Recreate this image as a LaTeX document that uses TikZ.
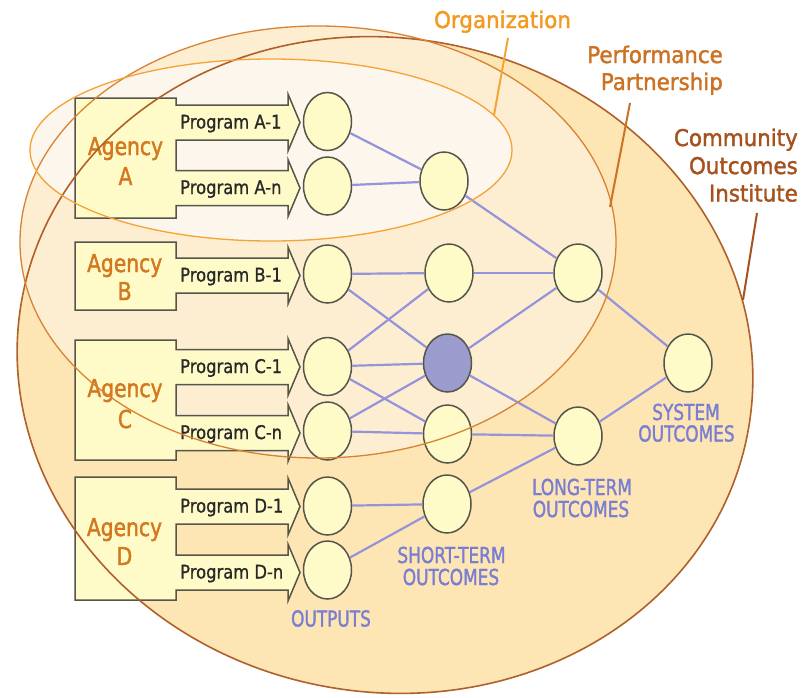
\documentclass[tikz,border=0pt]{standalone}
\usepackage{fontspec}
\setmainfont{DejaVu Sans}
\newfontfamily\ftop[FakeStretch=0.93,FakeBold=1.6]{DejaVu Sans}
\newfontfamily\fag[FakeStretch=0.82,FakeBold=1.6]{DejaVu Sans}
\newfontfamily\fprog[FakeStretch=0.87,FakeBold=1.0]{DejaVu Sans}
\newfontfamily\fblue[FakeStretch=0.77,FakeBold=1.4]{DejaVu Sans}
\usetikzlibrary{shapes.geometric}
\definecolor{bigfill}{HTML}{FDE6B4}
\definecolor{perffill}{HTML}{FDEED2}
\definecolor{orgfill}{HTML}{FCF6EC}
\definecolor{bigline}{HTML}{B0602A}
\definecolor{perfline}{HTML}{D88234}
\definecolor{orgline}{HTML}{F5A236}
\definecolor{boxfill}{HTML}{FFFBC8}
\definecolor{boxline}{HTML}{55554A}
\definecolor{purplefill}{HTML}{9B9BCD}
\definecolor{connc}{HTML}{9494DA}
\definecolor{bluetxt}{HTML}{7A7ED2}
\definecolor{agtxt}{HTML}{D47820}
\definecolor{orgtxt}{HTML}{F29A22}
\definecolor{perftxt}{HTML}{CC7222}
\definecolor{comtxt}{HTML}{A5521E}
\definecolor{progtxt}{HTML}{282828}
\tikzset{
  agbox/.style={fill=boxfill, draw=boxline, line width=1.5pt, line join=miter},
  outc/.style={ellipse, draw=boxline, fill=boxfill, line width=1.5pt, minimum width=48pt, minimum height=58pt, inner sep=0pt},
  conn/.style={draw=connc, line width=2.2pt},
  leader/.style={line width=2pt},
  toplbl/.style={inner sep=0pt, font={\ftop\fontsize{23}{27}\selectfont}},
  aglbl/.style={inner sep=0pt, anchor=base, text=agtxt, font={\fag\fontsize{24.7}{29}\selectfont}},
  proglbl/.style={inner sep=0pt, anchor=base west, text=progtxt, font={\fprog\fontsize{18.8}{22}\selectfont}},
  bluelbl/.style={inner sep=0pt, anchor=base, text=bluetxt, font={\fblue\fontsize{22}{22}\selectfont}}
}
\newcommand\DrawAgTwo[4]{%
  \draw[agbox] (75,#1) -- (176,#1) -- (176,#3-17.5) -- (288,#3-17.5) -- (288,#3-28.5) -- (300,#3) -- (288,#3+28.5) -- (288,#3+17.5) -- (176,#3+17.5)
   -- (176,#4-17.5) -- (288,#4-17.5) -- (288,#4-28.5) -- (300,#4) -- (288,#4+28.5) -- (288,#4+17.5) -- (176,#4+17.5) -- (176,#2) -- (75,#2) -- cycle;}
\newcommand\DrawAgOne[3]{%
  \draw[agbox] (75,#1) -- (176,#1) -- (176,#3-17.5) -- (288,#3-17.5) -- (288,#3-28.5) -- (300,#3) -- (288,#3+28.5) -- (288,#3+17.5) -- (176,#3+17.5)
   -- (176,#2) -- (75,#2) -- cycle;}
\begin{document}
\begin{tikzpicture}[x=1pt,y=-1pt]
\useasboundingbox (0,0) rectangle (804,697);
\fill[white] (0,0) rectangle (804,697);
% fills of the three zones
\fill[bigfill, rotate around={-10:(385,365)}] (385,365) ellipse [x radius=369, y radius=327];
\fill[perffill] (318,242) ellipse [x radius=298, y radius=216];
\fill[orgfill] (271,150) ellipse [x radius=241, y radius=91];
% output / outcome circles
\node[outc] (c1a1) at (327.5,121.5) {};
\node[outc] (c1a2) at (327.5,186) {};
\node[outc] (c1b) at (327.5,274) {};
\node[outc] (c1c1) at (327.5,366.5) {};
\node[outc] (c1cn) at (327.5,431) {};
\node[outc] (c1d1) at (327.5,506) {};
\node[outc] (c1dn) at (327.5,570) {};
\node[outc] (c2o) at (444,181) {};
\node[outc] (c2b) at (449,273) {};
\node[outc, fill=purplefill] (c2p) at (447.5,363) {};
\node[outc] (c2cn) at (447.5,434) {};
\node[outc] (c2d) at (447,504) {};
\node[outc] (c3t) at (578,273) {};
\node[outc] (c3b) at (578,436) {};
\node[outc] (c4) at (688,363) {};
% connectors
\draw[conn] (c1a1) -- (c2o);
\draw[conn] (c1a2) -- (c2o);
\draw[conn] (c2o) -- (c3t);
\draw[conn] (c1b) -- (c2b);
\draw[conn] (c1b) -- (c2p);
\draw[conn] (c2b) -- (c3t);
\draw[conn] (c1c1) -- (c2b);
\draw[conn] (c1c1) -- (c2p);
\draw[conn] (c1c1) -- (c2cn);
\draw[conn] (c1cn) -- (c2p);
\draw[conn] (c1cn) -- (c2cn);
\draw[conn] (c2p) -- (c3t);
\draw[conn] (c2p) -- (c3b);
\draw[conn] (c2cn) -- (c3b);
\draw[conn] (c1d1) -- (c2d);
\draw[conn] (c1dn) -- (c2d);
\draw[conn] (c2d) -- (c3b);
\draw[conn] (c3t) -- (c4);
\draw[conn] (c3b) -- (c4);
% agencies with program arrows
\DrawAgTwo{98}{218}{122.5}{188}
\DrawAgOne{242}{310}{275.5}
\DrawAgTwo{340}{460}{367}{433}
\DrawAgTwo{477}{600}{506.5}{572.5}
\node[aglbl] (agA1) at (125.5,155) {Agency};
\node[aglbl] (agA2) at (125.5,185) {A};
\node[aglbl] (agB1) at (124.7,272) {Agency};
\node[aglbl] (agB2) at (124.7,300) {B};
\node[aglbl] (agC1) at (125,397) {Agency};
\node[aglbl] (agC2) at (125,428) {C};
\node[aglbl] (agD1) at (124.5,536) {Agency};
\node[aglbl] (agD2) at (124.5,565) {D};
\node[proglbl] (pA1) at (180,128.5) {Program A-1};
\node[proglbl] (pAn) at (180,194) {Program A-n};
\node[proglbl] (pB1) at (180,281.5) {Program B-1};
\node[proglbl] (pC1) at (180,373) {Program C-1};
\node[proglbl] (pCn) at (180,439) {Program C-n};
\node[proglbl] (pD1) at (180,512.5) {Program D-1};
\node[proglbl] (pDn) at (180,578.5) {Program D-n};
% outcome labels
\node[bluelbl] (outT) at (331,626.5) {OUTPUTS};
\node[bluelbl] (stT1) at (451.5,563) {SHORT-TERM};
\node[bluelbl] (stT2) at (451,585) {OUTCOMES};
\node[bluelbl] (ltT1) at (582,495) {LONG-TERM};
\node[bluelbl] (ltT2) at (581,517) {OUTCOMES};
\node[bluelbl] (sysT1) at (686,420) {SYSTEM};
\node[bluelbl] (sysT2) at (686.5,441.5) {OUTCOMES};
% outlines of the three zones, on top
\draw[bigline, line width=1.6pt, rotate around={-10:(385,365)}] (385,365) ellipse [x radius=369, y radius=327];
\draw[perfline, line width=1.3pt] (318,242) ellipse [x radius=298, y radius=216];
\draw[orgline, line width=1.3pt] (271,150) ellipse [x radius=241, y radius=91];
% zone labels and leaders
\node[toplbl, text=orgtxt, anchor=base] (orgT) at (502.5,28) {Organization};
\node[toplbl, text=perftxt, anchor=base east] (perfT1) at (723,63) {Performance};
\node[toplbl, text=perftxt, anchor=base east] (perfT2) at (723,90) {Partnership};
\node[toplbl, text=comtxt, anchor=base east] (comT1) at (798,146) {Community};
\node[toplbl, text=comtxt, anchor=base east] (comT2) at (798,174) {Outcomes};
\node[toplbl, text=comtxt, anchor=base east] (comT3) at (798,201.5) {Institute};
\coordinate (orgL1) at (508,38);
\coordinate (orgL2) at (494,115);
\coordinate (perfL1) at (630,103);
\coordinate (perfL2) at (610,207);
\coordinate (comL1) at (757,213);
\coordinate (comL2) at (743,300);
\draw[leader, draw=orgline] (orgL1) -- (orgL2);
\draw[leader, draw=perftxt] (perfL1) -- (perfL2);
\draw[leader, draw=comtxt] (comL1) -- (comL2);
\end{tikzpicture}
\end{document}
